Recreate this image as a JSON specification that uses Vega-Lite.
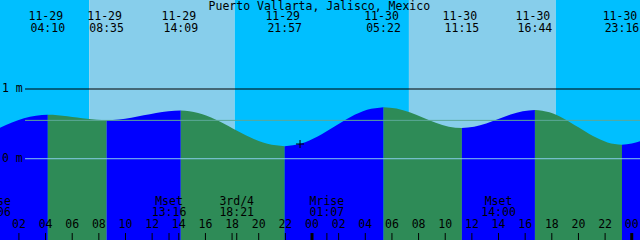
{
  "$schema": "https://vega.github.io/schema/vega-lite/v6.json",
  "width": 640,
  "height": 240,
  "padding": 0,
  "autosize": {"type": "fit", "contains": "padding"},
  "config": {"view": {"stroke": null}, "text": {"font": "DejaVu Sans Mono", "fontSize": 11.5, "color": "#000000"}},
  "datasets": {
    "sky": [
      {"t0": -1, "t1": 7.275, "kind": "night"},
      {"t0": 7.275, "t1": 18.2, "kind": "day"},
      {"t0": 18.2, "t1": 31.275, "kind": "night"},
      {"t0": 31.275, "t1": 42.3, "kind": "day"},
      {"t0": 42.3, "t1": 50, "kind": "night"}
    ],
    "tide": [
      {"seg": 1, "dir": "rising", "t": -0.3, "h": 0.37},
      {"seg": 1, "dir": "rising", "t": 0.58, "h": 0.445},
      {"seg": 1, "dir": "rising", "t": 1.48, "h": 0.52},
      {"seg": 1, "dir": "rising", "t": 2.38, "h": 0.58},
      {"seg": 1, "dir": "rising", "t": 3.28, "h": 0.617},
      {"seg": 1, "dir": "rising", "t": 4.167, "h": 0.63},
      {"seg": 2, "dir": "falling", "t": 4.167, "h": 0.63},
      {"seg": 2, "dir": "falling", "t": 4.903, "h": 0.625},
      {"seg": 2, "dir": "falling", "t": 5.639, "h": 0.611},
      {"seg": 2, "dir": "falling", "t": 6.375, "h": 0.5925},
      {"seg": 2, "dir": "falling", "t": 7.111, "h": 0.574},
      {"seg": 2, "dir": "falling", "t": 7.847, "h": 0.56},
      {"seg": 2, "dir": "falling", "t": 8.583, "h": 0.555},
      {"seg": 3, "dir": "rising", "t": 8.583, "h": 0.555},
      {"seg": 3, "dir": "rising", "t": 9.511, "h": 0.564},
      {"seg": 3, "dir": "rising", "t": 10.439, "h": 0.589},
      {"seg": 3, "dir": "rising", "t": 11.367, "h": 0.6225},
      {"seg": 3, "dir": "rising", "t": 12.294, "h": 0.656},
      {"seg": 3, "dir": "rising", "t": 13.222, "h": 0.681},
      {"seg": 3, "dir": "rising", "t": 14.15, "h": 0.69},
      {"seg": 4, "dir": "falling", "t": 14.15, "h": 0.69},
      {"seg": 4, "dir": "falling", "t": 15.45, "h": 0.656},
      {"seg": 4, "dir": "falling", "t": 16.75, "h": 0.5625},
      {"seg": 4, "dir": "falling", "t": 18.05, "h": 0.435},
      {"seg": 4, "dir": "falling", "t": 19.35, "h": 0.3075},
      {"seg": 4, "dir": "falling", "t": 20.65, "h": 0.214},
      {"seg": 4, "dir": "falling", "t": 21.95, "h": 0.18},
      {"seg": 5, "dir": "rising", "t": 21.95, "h": 0.18},
      {"seg": 5, "dir": "rising", "t": 23.186, "h": 0.2175},
      {"seg": 5, "dir": "rising", "t": 24.422, "h": 0.32},
      {"seg": 5, "dir": "rising", "t": 25.658, "h": 0.46},
      {"seg": 5, "dir": "rising", "t": 26.895, "h": 0.6},
      {"seg": 5, "dir": "rising", "t": 28.131, "h": 0.7025},
      {"seg": 5, "dir": "rising", "t": 29.367, "h": 0.74},
      {"seg": 6, "dir": "falling", "t": 29.367, "h": 0.74},
      {"seg": 6, "dir": "falling", "t": 30.347, "h": 0.72},
      {"seg": 6, "dir": "falling", "t": 31.328, "h": 0.665},
      {"seg": 6, "dir": "falling", "t": 32.308, "h": 0.59},
      {"seg": 6, "dir": "falling", "t": 33.289, "h": 0.515},
      {"seg": 6, "dir": "falling", "t": 34.27, "h": 0.46},
      {"seg": 6, "dir": "falling", "t": 35.25, "h": 0.44},
      {"seg": 7, "dir": "rising", "t": 35.25, "h": 0.44},
      {"seg": 7, "dir": "rising", "t": 36.164, "h": 0.4574},
      {"seg": 7, "dir": "rising", "t": 37.078, "h": 0.505},
      {"seg": 7, "dir": "rising", "t": 37.992, "h": 0.57},
      {"seg": 7, "dir": "rising", "t": 38.905, "h": 0.635},
      {"seg": 7, "dir": "rising", "t": 39.819, "h": 0.6826},
      {"seg": 7, "dir": "rising", "t": 40.733, "h": 0.7},
      {"seg": 8, "dir": "falling", "t": 40.733, "h": 0.7},
      {"seg": 8, "dir": "falling", "t": 41.822, "h": 0.6665},
      {"seg": 8, "dir": "falling", "t": 42.911, "h": 0.575},
      {"seg": 8, "dir": "falling", "t": 44.0, "h": 0.45},
      {"seg": 8, "dir": "falling", "t": 45.089, "h": 0.325},
      {"seg": 8, "dir": "falling", "t": 46.178, "h": 0.2335},
      {"seg": 8, "dir": "falling", "t": 47.267, "h": 0.2},
      {"seg": 9, "dir": "rising", "t": 47.267, "h": 0.2},
      {"seg": 9, "dir": "rising", "t": 48.0, "h": 0.218},
      {"seg": 9, "dir": "rising", "t": 48.62, "h": 0.25},
      {"seg": 9, "dir": "rising", "t": 49.3, "h": 0.3}
    ],
    "levels": [
      {"h": 1, "kind": "one"},
      {"h": 0.55, "kind": "mid"},
      {"h": 0, "kind": "zero"}
    ],
    "levelLabels": [
      {"h": 1, "label": "1 m"},
      {"h": 0, "label": "0 m"}
    ],
    "events": [
      {"t": 4.167, "date": "11-29", "time": "04:10"},
      {"t": 8.583, "date": "11-29", "time": "08:35"},
      {"t": 14.15, "date": "11-29", "time": "14:09"},
      {"t": 21.95, "date": "11-29", "time": "21:57"},
      {"t": 29.367, "date": "11-30", "time": "05:22"},
      {"t": 35.25, "date": "11-30", "time": "11:15"},
      {"t": 40.733, "date": "11-30", "time": "16:44"},
      {"t": 47.267, "date": "11-30", "time": "23:16"}
    ],
    "hours": [
      {"t": 2, "label": "02", "kind": "hour"},
      {"t": 4, "label": "04", "kind": "hour"},
      {"t": 6, "label": "06", "kind": "hour"},
      {"t": 8, "label": "08", "kind": "hour"},
      {"t": 10, "label": "10", "kind": "hour"},
      {"t": 12, "label": "12", "kind": "hour"},
      {"t": 14, "label": "14", "kind": "hour"},
      {"t": 16, "label": "16", "kind": "hour"},
      {"t": 18, "label": "18", "kind": "hour"},
      {"t": 20, "label": "20", "kind": "hour"},
      {"t": 22, "label": "22", "kind": "hour"},
      {"t": 24, "label": "00", "kind": "midnight"},
      {"t": 26, "label": "02", "kind": "hour"},
      {"t": 28, "label": "04", "kind": "hour"},
      {"t": 30, "label": "06", "kind": "hour"},
      {"t": 32, "label": "08", "kind": "hour"},
      {"t": 34, "label": "10", "kind": "hour"},
      {"t": 36, "label": "12", "kind": "hour"},
      {"t": 38, "label": "14", "kind": "hour"},
      {"t": 40, "label": "16", "kind": "hour"},
      {"t": 42, "label": "18", "kind": "hour"},
      {"t": 44, "label": "20", "kind": "hour"},
      {"t": 46, "label": "22", "kind": "hour"},
      {"t": 48, "label": "00", "kind": "midnight"}
    ],
    "moon": [
      {"t": 0.1, "name": "Mrise", "time": "00:06"},
      {"t": 13.267, "name": "Mset", "time": "13:16"},
      {"t": 18.35, "name": "3rd/4", "time": "18:21"},
      {"t": 25.117, "name": "Mrise", "time": "01:07"},
      {"t": 38.0, "name": "Mset", "time": "14:00"}
    ],
    "now": [{"t": 23.1, "h": 0.211}]
  },
  "resolve": {"scale": {"color": "independent", "strokeWidth": "independent"}},
  "layer": [
    {
      "data": {"name": "sky"},
      "mark": {"type": "rect", "clip": true},
      "encoding": {
        "x": {"field": "t0", "type": "quantitative", "scale": {"domain": [0.58, 48.62], "nice": false, "zero": false}, "axis": null},
        "x2": {"field": "t1"},
        "color": {"field": "kind", "type": "nominal", "scale": {"domain": ["night", "day"], "range": ["#00BFFF", "#87CEEB"]}, "legend": null}
      }
    },
    {
      "data": {"name": "tide"},
      "mark": {"type": "area", "interpolate": "monotone", "clip": true},
      "encoding": {
        "x": {"field": "t", "type": "quantitative"},
        "y": {"field": "h", "type": "quantitative", "scale": {"domain": [-1.166, 2.277], "nice": false, "zero": false}, "axis": null},
        "y2": {"datum": -1.3},
        "color": {"field": "dir", "type": "nominal", "scale": {"domain": ["rising", "falling"], "range": ["#0000FF", "#2E8B57"]}, "legend": null},
        "detail": {"field": "seg"}
      }
    },
    {
      "data": {"name": "levels"},
      "mark": {"type": "rule", "clip": true, "strokeWidth": 1},
      "encoding": {
        "x": {"datum": 2.46},
        "x2": {"datum": 49},
        "y": {"field": "h", "type": "quantitative"},
        "color": {"field": "kind", "type": "nominal", "scale": {"domain": ["one", "mid", "zero"], "range": ["#000000", "#5CA898", "#87CEEB"]}, "legend": null}
      }
    },
    {
      "data": {"name": "levelLabels"},
      "mark": {"type": "text", "align": "left", "baseline": "middle", "clip": true},
      "encoding": {
        "x": {"datum": 0.73},
        "y": {"field": "h", "type": "quantitative"},
        "text": {"field": "label"}
      }
    },
    {
      "data": {"values": [{"label": "Puerto Vallarta, Jalisco, Mexico"}]},
      "mark": {"type": "text", "align": "center", "baseline": "middle", "clip": true},
      "encoding": {
        "x": {"datum": 24.55},
        "y": {"datum": 2.177},
        "text": {"field": "label"}
      }
    },
    {
      "data": {"name": "events"},
      "mark": {"type": "text", "align": "center", "baseline": "middle", "dx": -2, "clip": true},
      "encoding": {
        "x": {"field": "t", "type": "quantitative"},
        "y": {"datum": 2.033},
        "text": {"field": "date"}
      }
    },
    {
      "data": {"name": "events"},
      "mark": {"type": "text", "align": "center", "baseline": "middle", "clip": true},
      "encoding": {
        "x": {"field": "t", "type": "quantitative"},
        "y": {"datum": 1.861},
        "text": {"field": "time"}
      }
    },
    {
      "data": {"name": "now"},
      "mark": {"type": "point", "shape": "M-1,0H1M0,-1V1", "filled": false, "stroke": "#000000", "strokeWidth": 1, "size": 64, "opacity": 1, "clip": true},
      "encoding": {
        "x": {"field": "t", "type": "quantitative"},
        "y": {"field": "h", "type": "quantitative"}
      }
    },
    {
      "data": {"name": "hours"},
      "mark": {"type": "rule", "clip": true, "color": "#000000"},
      "encoding": {
        "x": {"field": "t", "type": "quantitative"},
        "y": {"datum": -1.066},
        "y2": {"datum": -1.3},
        "strokeWidth": {"field": "kind", "type": "nominal", "scale": {"domain": ["hour", "midnight"], "range": [1, 3]}, "legend": null}
      }
    },
    {
      "data": {"name": "hours"},
      "mark": {"type": "text", "align": "center", "baseline": "middle", "clip": true},
      "encoding": {
        "x": {"field": "t", "type": "quantitative"},
        "y": {"datum": -0.951},
        "text": {"field": "label"}
      }
    },
    {
      "data": {"name": "moon"},
      "mark": {"type": "rule", "clip": true, "color": "#000000", "strokeWidth": 1},
      "encoding": {
        "x": {"field": "t", "type": "quantitative"},
        "y": {"datum": -1.066},
        "y2": {"datum": -1.3}
      }
    },
    {
      "data": {"name": "moon"},
      "mark": {"type": "text", "align": "center", "baseline": "middle", "clip": true},
      "encoding": {
        "x": {"field": "t", "type": "quantitative"},
        "y": {"datum": -0.617},
        "text": {"field": "name"}
      }
    },
    {
      "data": {"name": "moon"},
      "mark": {"type": "text", "align": "center", "baseline": "middle", "clip": true},
      "encoding": {
        "x": {"field": "t", "type": "quantitative"},
        "y": {"datum": -0.779},
        "text": {"field": "time"}
      }
    }
  ]
}
